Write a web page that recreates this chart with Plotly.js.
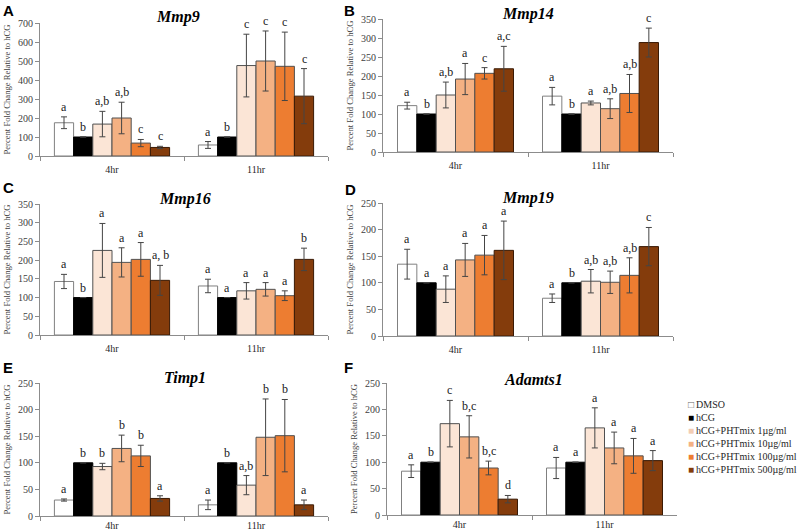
<!DOCTYPE html>
<html><head><meta charset="utf-8">
<script src="https://cdn.plot.ly/plotly-3.0.1.min.js"></script>
<style>html,body{margin:0;padding:0;background:#fff}</style>
</head><body><div id="chart" style="width:800px;height:532px"></div>
<script>
const categories = ['4hr', '11hr'];
const seriesNames = ['DMSO', 'hCG', 'hCG+PHTmix 1µg/ml', 'hCG+PHTmix 10µg/ml', 'hCG+PHTmix 100µg/ml', 'hCG+PHTmix 500µg/ml'];
const seriesColors = ['#FFFFFF', '#000000', '#FBE5D6', '#F4B183', '#ED7D31', '#843C0C'];
const outlineColors = ['#808080', '#000000', '#505050', '#505050', '#505050', '#3a1a05'];
const genes = ['Mmp9', 'Mmp14', 'Mmp16', 'Mmp19', 'Timp1', 'Adamts1'];
const panelLetters = ['A', 'B', 'C', 'D', 'E', 'F'];
const yTitle = 'Percent Fold Change Relative to hCG';

// Mmp9
const mmp9_4hr = [175, 100, 168, 200, 68, 45];
const mmp9_4hr_err = [31, null, 67, 83, 19, 6];
const mmp9_11hr = [58, 100, 476, 500, 472, 315];
const mmp9_11hr_err = [18, null, 165, 158, 180, 145];
const mmp9_4hr_sig = ['a', 'b', 'a,b', 'a,b', 'c', 'c'];
const mmp9_11hr_sig = ['a', 'b', 'c', 'c', 'c', 'c'];

// Mmp14
const mmp14_4hr = [122, 100, 150, 192, 207, 219];
const mmp14_4hr_err = [9, null, 34, 41, 15, 59];
const mmp14_11hr = [147, 100, 129, 114, 154, 288];
const mmp14_11hr_err = [23, null, 5, 26, 50, 38];
const mmp14_4hr_sig = ['a', 'b', 'a,b', 'a', 'c', 'a,c'];
const mmp14_11hr_sig = ['a', 'b', 'a', 'a,b', 'a,b', 'c'];

// Mmp16
const mmp16_4hr = [143, 100, 226, 194, 202, 146];
const mmp16_4hr_err = [19, null, 72, 39, 45, 40];
const mmp16_11hr = [131, 100, 118, 122, 105, 202];
const mmp16_11hr_err = [18, null, 22, 18, 13, 30];
const mmp16_4hr_sig = ['a', 'b', 'a', 'a', 'a', 'a, b'];
const mmp16_11hr_sig = ['a', 'a', 'a', 'a', 'a', 'b'];

// Mmp19
const mmp19_4hr = [135, 100, 88, 143, 152, 161];
const mmp19_4hr_err = [28, null, 25, 31, 37, 55];
const mmp19_11hr = [71, 100, 103, 101, 114, 168];
const mmp19_11hr_err = [8, null, 22, 21, 33, 36];
const mmp19_4hr_sig = ['a', 'a', 'a', 'a', 'a', 'a'];
const mmp19_11hr_sig = ['a', 'b', 'a,b', 'a,b', 'a,b', 'c'];

// Timp1
const timp1_4hr = [30, 100, 93, 127, 113, 33];
const timp1_4hr_err = [2, null, 6, 25, 20, 5];
const timp1_11hr = [21, 100, 58, 148, 151, 21];
const timp1_11hr_err = [9, null, 18, 72, 68, 9];
const timp1_4hr_sig = ['a', 'b', 'b', 'b', 'b', 'a'];
const timp1_11hr_sig = ['a', 'b', 'a,b', 'b', 'b', 'a'];

// Adamts1
const adamts1_4hr = [83, 100, 173, 148, 89, 30];
const adamts1_4hr_err = [12, null, 44, 40, 13, 7];
const adamts1_11hr = [89, 100, 165, 127, 112, 103];
const adamts1_11hr_err = [20, null, 38, 30, 33, 19];
const adamts1_4hr_sig = ['a', 'b', 'c', 'b,c', 'b,c', 'd'];
const adamts1_11hr_sig = ['a', 'a', 'a', 'a', 'a', 'a'];

const yMax = [700, 350, 350, 250, 250, 250];
const yStep = [100, 50, 50, 50, 50, 50];

const panelData = [
  [mmp9_4hr, mmp9_4hr_err, mmp9_11hr, mmp9_11hr_err, mmp9_4hr_sig, mmp9_11hr_sig],
  [mmp14_4hr, mmp14_4hr_err, mmp14_11hr, mmp14_11hr_err, mmp14_4hr_sig, mmp14_11hr_sig],
  [mmp16_4hr, mmp16_4hr_err, mmp16_11hr, mmp16_11hr_err, mmp16_4hr_sig, mmp16_11hr_sig],
  [mmp19_4hr, mmp19_4hr_err, mmp19_11hr, mmp19_11hr_err, mmp19_4hr_sig, mmp19_11hr_sig],
  [timp1_4hr, timp1_4hr_err, timp1_11hr, timp1_11hr_err, timp1_4hr_sig, timp1_11hr_sig],
  [adamts1_4hr, adamts1_4hr_err, adamts1_11hr, adamts1_11hr_err, adamts1_4hr_sig, adamts1_11hr_sig]
];

// layout geometry (pixels)
const W = 800, H = 532;
const xDomPx = [[40, 328], [383, 673], [40, 328], [383, 673], [40, 328], [387, 677]];
const yDomPx = [[23, 156], [19, 152], [204, 335], [203, 336], [383, 516], [383, 515]];
const xLabelStandoff = [4, 4, 4, 4, 0, 0];
const titlePos = [[178, 17], [528, 14], [185, 199], [528, 198], [185, 378], [533, 379]];
const letterPos = [[1, 10], [342, 10], [1, 188], [343, 189], [1, 367], [342, 367]];
const BARGAP = 0.2;

const serif = 'Liberation Serif, Times New Roman, serif';
const traces = [];
const annotations = [];
const layout = {
  width: W, height: H,
  margin: {l: 0, r: 0, t: 0, b: 0},
  paper_bgcolor: '#fff', plot_bgcolor: 'rgba(0,0,0,0)',
  barmode: 'group', bargap: BARGAP, bargroupgap: 0,
  showlegend: false,
  font: {family: serif, size: 10, color: '#404040'},
  annotations: annotations
};

panelData.forEach((pd, p) => {
  const [v4, e4, v11, e11, s4, s11] = pd;
  const ax = p === 0 ? '' : String(p + 1);
  const xa = 'xaxis' + ax, ya = 'yaxis' + ax;
  layout[xa] = {
    domain: [xDomPx[p][0] / W, xDomPx[p][1] / W],
    anchor: 'y' + ax, type: 'category',
    showline: true, linecolor: '#8c8c8c', linewidth: 1,
    ticks: 'outside', tickson: 'boundaries', ticklen: 4, tickcolor: '#8c8c8c',
    ticklabelstandoff: xLabelStandoff[p],
    showgrid: false, zeroline: false, fixedrange: true,
    tickfont: {family: serif, size: 10, color: '#262626'}
  };
  layout[ya] = {
    domain: [1 - yDomPx[p][1] / H, 1 - yDomPx[p][0] / H],
    anchor: 'x' + ax, range: [0, yMax[p]], dtick: yStep[p], tick0: 0,
    showline: true, linecolor: '#8c8c8c', linewidth: 1,
    ticks: 'outside', ticklen: 4, tickcolor: '#8c8c8c',
    showgrid: false, zeroline: false, fixedrange: true,
    tickfont: {family: serif, size: 10, color: '#404040'},
    title: {text: yTitle, font: {family: serif, size: 8.6, color: '#404040'}, standoff: 5}
  };
  const bw = (xDomPx[p][1] - xDomPx[p][0]) / categories.length * (1 - BARGAP) / seriesNames.length;
  seriesNames.forEach((name, i) => {
    traces.push({
      type: 'bar', name: name, x: categories, y: [v4[i], v11[i]],
      xaxis: 'x' + ax, yaxis: 'y' + ax,
      marker: {color: seriesColors[i], line: {color: outlineColors[i], width: 1}},
      error_y: {type: 'data', array: [e4[i], e11[i]], visible: true,
                color: '#454545', thickness: 1, width: 3},
      showlegend: false, hoverinfo: 'skip'
    });
    [[v4, e4, s4], [v11, e11, s11]].forEach(([v, e, s], j) => {
      annotations.push({
        xref: 'x' + ax, yref: 'y' + ax, x: categories[j], y: v[i] + (e[i] || 0),
        xshift: (i - (seriesNames.length - 1) / 2) * bw, yshift: 1,
        yanchor: 'bottom', xanchor: 'center', showarrow: false,
        text: s[i], font: {family: serif, size: 12, color: '#1a1a1a'}
      });
    });
  });
  annotations.push({
    xref: 'paper', yref: 'paper', x: titlePos[p][0] / W, y: 1 - titlePos[p][1] / H,
    xanchor: 'center', yanchor: 'middle', showarrow: false,
    text: '<b><i>' + genes[p] + '</i></b>', font: {family: serif, size: 16, color: '#000'}
  });
  annotations.push({
    xref: 'paper', yref: 'paper', x: letterPos[p][0] / W, y: 1 - letterPos[p][1] / H,
    xanchor: 'left', yanchor: 'middle', showarrow: false,
    text: '<b>' + panelLetters[p] + '</b>', font: {family: 'Liberation Sans, Arial, sans-serif', size: 15, color: '#000'}
  });
});

// legend (text block with coloured square glyphs)
const legendGlyph = ['□', '■', '■', '■', '■', '■'];
const legendGlyphColor = ['#666666', '#000000', '#F3CDB4', '#F4B183', '#ED7D31', '#843C0C'];
const legendLines = seriesNames.map((n, i) =>
  '<span style="color:' + legendGlyphColor[i] + ';font-size:10px">' + legendGlyph[i] + '</span>\u2009' + n);
annotations.push({
  xref: 'paper', yref: 'paper', x: 686 / W, y: 1 - 437 / H,
  xanchor: 'left', yanchor: 'middle', align: 'left', showarrow: false,
  text: legendLines.join('<br>'), font: {family: serif, size: 10, color: '#262626'}
});

Plotly.newPlot('chart', traces, layout, {staticPlot: true});
</script></body></html>
